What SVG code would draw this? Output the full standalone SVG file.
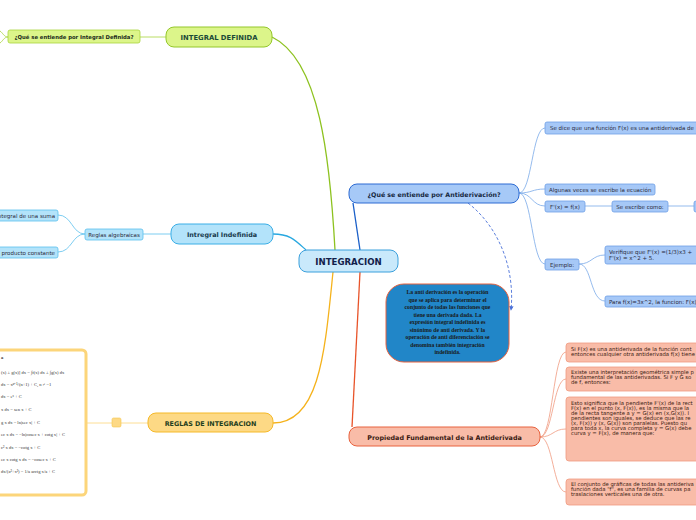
<svg xmlns="http://www.w3.org/2000/svg" width="696" height="520" viewBox="0 0 696 520">
<defs>
<style>
.t{font-family:"DejaVu Sans","Liberation Sans",sans-serif}
.b{font-weight:bold}
.sm{font-family:"DejaVu Sans","Liberation Sans",sans-serif;font-size:5.5px;fill:#2a2a3a}
.sal{font-family:"DejaVu Sans","Liberation Sans",sans-serif;font-size:5.3px;fill:#3a1a10}
.f{font-family:"Liberation Serif",serif;font-size:4.6px;fill:#333}
.cl{font-family:"Liberation Serif",serif;font-size:5.7px;font-weight:bold;fill:#1a1a1a}
.bl{fill:#a6c8f7;stroke:#6e9fe6;stroke-width:0.8}
.cy{fill:#b3e3fa;stroke:#5cc0ee;stroke-width:0.8}
.sa{fill:#f9bca8;stroke:#f09a80;stroke-width:0.8}
.li{fill:#dcf58a;stroke:#a8d43c;stroke-width:0.8}
</style>
<marker id="ah" viewBox="0 0 6 6" refX="5" refY="3" markerWidth="5" markerHeight="5" orient="auto">
<path d="M0,0 L6,3 L0,6 z" fill="#4a70d8"/>
</marker>
</defs>
<rect width="696" height="520" fill="#ffffff"/>

<g id="connectors" fill="none">
<path d="M335,250 C330,160 320,60 272,37" stroke="#8dc21f" stroke-width="1.3"/>
<path d="M306,250 C295,240 290,234 273,234" stroke="#29a8e0" stroke-width="1.3"/>
<path d="M333,272 C325,350 320,423 273,423" stroke="#f5b21b" stroke-width="1.3"/>
<path d="M360,250 L353,203" stroke="#1a5fc8" stroke-width="1.3"/>
<path d="M360,272 L352,427" stroke="#e8542a" stroke-width="1.3"/>
<path d="M166,37 L140,37" stroke="#a8d43c" stroke-width="0.8"/>
<path d="M8,37 C4,37 3,33 0,31 M8,37 C4,37 3,41 0,43" stroke="#a8d43c" stroke-width="0.8"/>
<path d="M171,234 L143,234" stroke="#5cc0ee" stroke-width="0.8"/>
<path d="M85,234 C72,234 72,215 58,215 M85,234 C72,234 72,252 58,252" stroke="#5cc0ee" stroke-width="0.8"/>
<path d="M148,423 L121,423 M112,423 L86,423" stroke="#fcd57a" stroke-width="0.8"/>
<path d="M519,193 C532,193 532,128 545,128 M519,193 C532,193 532,189 545,189 M519,193 C532,193 532,206 545,206 M519,193 C532,193 532,264 545,264" stroke="#7aaae8" stroke-width="0.8"/>
<path d="M585,206 L612,206 M668,206 L694,206" stroke="#7aaae8" stroke-width="0.8"/>
<path d="M579,264 C592,264 592,255 605,255 M579,264 C592,264 590,301 605,301" stroke="#7aaae8" stroke-width="0.8"/>
<path d="M540,437 C553,437 553,352 566,352 M540,437 C553,437 553,379 566,379 M540,437 C553,437 553,429 566,429 M540,437 C553,437 553,492 566,492" stroke="#f09a80" stroke-width="0.8"/>
<path d="M468,203 C500,228 515,270 511,310" stroke="#4a70d8" stroke-width="0.9" stroke-dasharray="3,2" marker-end="url(#ah)"/>
</g>

<g id="integracion">
<rect x="299" y="250" width="99" height="22" rx="8" fill="#c9e9fb" stroke="#3ba0dc" stroke-width="1"/>
<text x="348.5" y="264.5" text-anchor="middle" class="t b" font-size="8.6" fill="#12204a">INTEGRACION</text>
</g>

<g id="integral-definida">
<rect x="166" y="27" width="106" height="20" rx="8" fill="#dcf58a" stroke="#94c72a" stroke-width="1"/>
<text x="219" y="40" text-anchor="middle" class="t b" font-size="6.8" fill="#1b4a38">INTEGRAL DEFINIDA</text>
</g>
<g id="q-definida">
<rect x="8" y="30" width="132" height="13" rx="2" class="li"/>
<text x="74" y="38.8" text-anchor="middle" class="t b" font-size="5.3" fill="#1a2a1a">¿Qué se entiende por Integral Definida?</text>
</g>

<g id="integral-indefinida">
<rect x="171" y="224" width="102" height="20" rx="8" fill="#b3e3fa" stroke="#3aaee6" stroke-width="1"/>
<text x="222" y="237" text-anchor="middle" class="t b" font-size="6.4" fill="#16384a">Intregral Indefinida</text>
</g>
<g id="reglas-algebraicas">
<rect x="85" y="229" width="58" height="11" rx="2" class="cy"/>
<text x="114" y="236.6" text-anchor="middle" class="sm" font-size="5">Reglas algebraicas</text>
</g>
<g id="integral-suma">
<rect x="-4" y="210" width="62" height="11" rx="2" class="cy"/>
<text x="55" y="217.6" text-anchor="end" class="sm" font-size="4.8">ntegral de una suma</text>
</g>
<g id="producto-constante">
<rect x="-4" y="247" width="62" height="11" rx="2" class="cy"/>
<text x="55" y="254.6" text-anchor="end" class="sm" font-size="5">producto constante</text>
</g>

<g id="reglas-integracion">
<rect x="148" y="413" width="125" height="19" rx="8" fill="#fdd985" stroke="#f5b929" stroke-width="1"/>
<text x="210.5" y="425.5" text-anchor="middle" class="t b" font-size="6.4" fill="#1f4020">REGLAS DE INTEGRACION</text>
</g>
<g id="reglas-square">
<rect x="112" y="418" width="9" height="9" rx="1.5" fill="#fdd985" stroke="#f5c64a" stroke-width="0.6"/>
</g>
<g id="formulas">
<rect x="-6" y="350" width="92" height="145" rx="4" fill="#ffffff" stroke="#fcd57a" stroke-width="3"/>
<text x="1" y="359" class="f b" font-size="5">a</text>
<text x="1" y="374" class="f">(x) ± g(x)] dx = ∫f(x) dx ± ∫g(x) dx</text>
<text x="1" y="386" class="f">dx = xⁿ⁺¹/(n+1) + C,  n ≠ −1</text>
<text x="1" y="398" class="f">dx = eˣ + C</text>
<text x="1" y="411" class="f">x dx = sen x + C</text>
<text x="1" y="424" class="f">g x dx = ln|sec x| + C</text>
<text x="1" y="436" class="f">ec x dx = −ln|cosec x + cotg x| + C</text>
<text x="1" y="449" class="f">c² x dx = −cotg x + C</text>
<text x="1" y="461" class="f">ec x cotg x dx = −cosec x + C</text>
<text x="1" y="473" class="f">dx/(a²+x²) = 1/a arctg x/a + C</text>
</g>

<g id="antiderivacion">
<rect x="349" y="184" width="170" height="19" rx="8" fill="#a6c9f7" stroke="#2d6bd3" stroke-width="1"/>
<text x="434" y="196.5" text-anchor="middle" class="t b" font-size="6.3" fill="#16283f">¿Qué se entiende por Antiderivación?</text>
</g>
<g id="se-dice">
<rect x="545" y="122" width="160" height="12" rx="2" class="bl"/>
<text x="550" y="130" class="sm">Se dice que una función F(x) es una antiderivada de</text>
</g>
<g id="algunas-veces">
<rect x="545" y="184" width="110" height="11" rx="2" class="bl"/>
<text x="549" y="191.6" class="sm">Algunas veces se escribe la ecuación</text>
</g>
<g id="fprima">
<rect x="545" y="201" width="40" height="11" rx="2" class="bl"/>
<text x="565" y="208.6" text-anchor="middle" class="sm">F'(x) = f(x)</text>
</g>
<g id="se-escribe">
<rect x="612" y="201" width="56" height="11" rx="2" class="bl"/>
<text x="640" y="208.6" text-anchor="middle" class="sm">Se escribe como:</text>
</g>
<g id="se-escribe-hijo">
<rect x="694" y="201" width="10" height="11" rx="2" class="bl"/>
</g>
<g id="ejemplo">
<rect x="545" y="259" width="34" height="11" rx="2" class="bl"/>
<text x="562" y="266.6" text-anchor="middle" class="sm">Ejemplo:</text>
</g>
<g id="verifique">
<rect x="605" y="246" width="100" height="18" rx="2" class="bl"/>
<text x="609" y="253.5" class="sm">Verifique que F'(x) =(1/3)x3 +</text>
<text x="609" y="259.5" class="sm">F'(x) = x^2 + 5.</text>
</g>
<g id="para-fx">
<rect x="605" y="296" width="100" height="11" rx="2" class="bl"/>
<text x="609" y="303.6" class="sm">Para f(x)=3x^2, la funcion: F(x)</text>
</g>

<g id="callout">
<rect x="386" y="284" width="123" height="78" rx="18" fill="#2186c8" stroke="#e8623e" stroke-width="1"/>
<text x="447.5" y="294" text-anchor="middle" class="cl">La anti derivación es la operación</text>
<text x="447.5" y="301.5" text-anchor="middle" class="cl">que se aplica para determinar el</text>
<text x="447.5" y="309" text-anchor="middle" class="cl">conjunto de todas las funciones que</text>
<text x="447.5" y="316.5" text-anchor="middle" class="cl">tiene una derivada dada. La</text>
<text x="447.5" y="324" text-anchor="middle" class="cl">expresión integral indefinida es</text>
<text x="447.5" y="331.5" text-anchor="middle" class="cl">sinónimo de anti derivada. Y la</text>
<text x="447.5" y="339" text-anchor="middle" class="cl">operación de anti diferenciación se</text>
<text x="447.5" y="346.5" text-anchor="middle" class="cl">denomina también integración</text>
<text x="447.5" y="354" text-anchor="middle" class="cl">indefinida.</text>
</g>

<g id="propiedad">
<rect x="349" y="427" width="191" height="19" rx="8" fill="#f9bca8" stroke="#e8623e" stroke-width="1"/>
<text x="444.5" y="439.5" text-anchor="middle" class="t b" font-size="6.4" fill="#3a1a12">Propiedad Fundamental de la Antiderivada</text>
</g>
<g id="prop-1">
<rect x="566" y="343" width="140" height="19" rx="3" class="sa"/>
<text x="571" y="350.5" class="sal">Si F(x) es una antiderivada de la función cont</text>
<text x="571" y="355.5" class="sal">entonces cualquier otra antiderivada f(x) tiene</text>
</g>
<g id="prop-2">
<rect x="566" y="367" width="140" height="24" rx="3" class="sa"/>
<text x="571" y="374.2" class="sal">Existe una interpretación geométrica simple p</text>
<text x="571" y="379.2" class="sal">fundamental de las antiderivadas. Si F y G so</text>
<text x="571" y="384.2" class="sal">de f, entonces:</text>
</g>
<g id="prop-3">
<rect x="566" y="397" width="140" height="64" rx="3" class="sa"/>
<text x="571" y="405" class="sal">Esto significa que la pendiente F'(x) de la rect</text>
<text x="571" y="410" class="sal">F(x) en el punto (x, F(x)), es la misma que la</text>
<text x="571" y="415" class="sal">de la recta tangente a y = G(x) en (x,G(x)). I</text>
<text x="571" y="420" class="sal">pendientes son iguales, se deduce que las re</text>
<text x="571" y="425" class="sal">(x, F(x)) y (x, G(x)) son paralelas. Puesto qu</text>
<text x="571" y="430" class="sal">para toda x, la curva completa y = G(x) debe</text>
<text x="571" y="435" class="sal">curva y = F(x), de manera que:</text>
</g>
<g id="prop-4">
<rect x="566" y="479" width="140" height="26" rx="3" class="sa"/>
<text x="571" y="486" class="sal">El conjunto de gráficas de todas las antideriva</text>
<text x="571" y="491" class="sal">función dada "f", es una familia de curvas pa</text>
<text x="571" y="496" class="sal">traslaciones verticales una de otra.</text>
</g>
</svg>
